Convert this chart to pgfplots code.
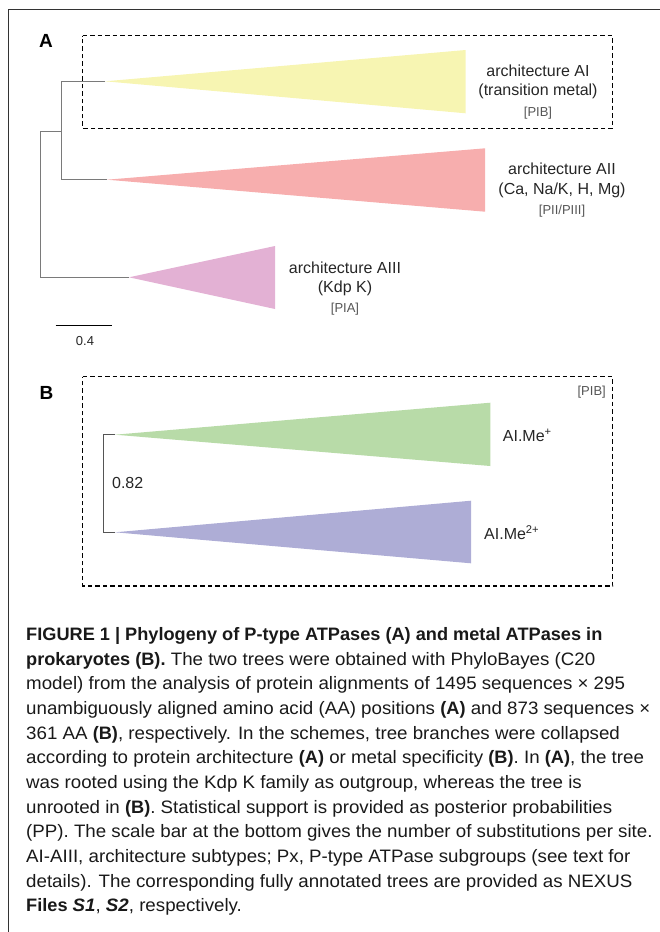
\documentclass[border=0pt]{standalone}
\usepackage{pgfplots}
\pgfplotsset{compat=1.18}
\usepackage{fontspec}
\setmainfont{Liberation Sans}
\newfontfamily\capfont[FakeStretch=1.04, BoldFeatures={FakeStretch=1.01}]{Liberation Sans}
\definecolor{cAI}{HTML}{F7F5B2}
\definecolor{cAII}{HTML}{F7AEAE}
\definecolor{cAIII}{HTML}{E3B1D4}
\definecolor{cG}{HTML}{B8DBA8}
\definecolor{cP}{HTML}{AEADD6}
\definecolor{br}{HTML}{7A7A7A}
\definecolor{tg}{HTML}{555555}
\begin{document}
\begin{tikzpicture}
\begin{axis}[
  width=660pt, height=932pt, scale only axis,
  xmin=0, xmax=660, ymin=0, ymax=932, y dir=reverse,
  axis lines=none, clip=false,
]
% frame
\addplot[color=black!80, line width=1.1pt] coordinates {(660,9.5) (8.5,9.5) (8.5,932)};
% panel A dashed box
\addplot[black, line width=1.4pt, dash pattern=on 4.5pt off 3pt] coordinates {(82.7,35.7) (612.7,35.7) (612.7,128.3) (82.7,128.3)} -- cycle;
% triangles A
\addplot[fill=cAI, draw=none] coordinates {(105,81.3) (465.7,50) (465.7,113.3)} -- cycle;
\addplot[fill=cAII, draw=none] coordinates {(107,179.7) (485,148.3) (485,211.7)} -- cycle;
\addplot[fill=cAIII, draw=none] coordinates {(129,277.3) (275,246) (275,309)} -- cycle;
% branches A
\addplot[br, line width=1pt] coordinates {(105,81.3) (61,81.3) (61,179.7) (107,179.7)};
\addplot[br, line width=1pt] coordinates {(61,131) (40,131) (40,277.3) (129,277.3)};
% scale bar
\addplot[black, line width=0.9pt] coordinates {(55.7,325.3) (112.3,325.3)};
% panel B dashed box
\addplot[black, line width=1.4pt, dash pattern=on 4.5pt off 3pt] coordinates {(82.7,376.7) (612.7,376.7) (612.7,586) (82.7,586)} -- cycle;
\addplot[fill=cG, draw=none] coordinates {(115,434.7) (490.3,402.7) (490.3,466)} -- cycle;
\addplot[fill=cP, draw=none] coordinates {(115,532.3) (471,500.7) (471,563.3)} -- cycle;
\addplot[br!70!black, line width=1pt] coordinates {(115,434.7) (103.3,434.7) (103.3,532.3) (115,532.3)};
% labels
\node[font=\bfseries\fontsize{19}{19}\selectfont] at (axis cs:46,40.5) {A};
\node[font=\bfseries\fontsize{19}{19}\selectfont] at (axis cs:46.5,393) {B};
\begin{scope}[every node/.style={font=\fontsize{16}{16}\selectfont, text=black!85, inner sep=0pt}]
\node at (axis cs:538,71) {architecture AI};
\node at (axis cs:538,91.7) {(transition metal)};
\node at (axis cs:562,169) {architecture AII};
\node at (axis cs:562,190) {(Ca, Na/K, H, Mg)};
\node at (axis cs:345,267.3) {architecture AIII};
\node at (axis cs:345,288) {(Kdp K)};
\node at (axis cs:85,340.7) {\fontsize{13}{13}\selectfont 0.4};
\node at (axis cs:127.7,483.3) {0.82};
\node[anchor=west] at (axis cs:502.7,435) {AI.Me\textsuperscript{+}};
\node[anchor=west] at (axis cs:484,532.3) {AI.Me\textsuperscript{2+}};
\end{scope}
\begin{scope}[every node/.style={font=\fontsize{13}{13}\selectfont, text=tg, inner sep=0pt}]
\node at (axis cs:538,113) {[PIB]};
\node at (axis cs:562,210.7) {[PII/PIII]};
\node at (axis cs:345,309) {[PIA]};
\node at (axis cs:591.7,391.7) {[PIB]};
\end{scope}
% caption
\begin{scope}[every node/.style={font=\capfont\fontsize{18}{18}\selectfont, text=black!90, inner sep=0pt, anchor=base west}]
\node at (axis cs:26,640.5) {\textbf{FIGURE 1 | Phylogeny of P-type ATPases (A) and metal ATPases in}};
\node at (axis cs:26,665.2) {\textbf{prokaryotes (B).} The two trees were obtained with PhyloBayes (C20};
\node at (axis cs:26,689.8) {model) from the analysis of protein alignments of 1495 sequences × 295};
\node at (axis cs:26,714.5) {unambiguously aligned amino acid (AA) positions \textbf{(A)} and 873 sequences ×};
\node at (axis cs:26,739.1) {361 AA \textbf{(B)}, respectively. In the schemes, tree branches were collapsed};
\node at (axis cs:26,763.8) {according to protein architecture \textbf{(A)} or metal specificity \textbf{(B)}. In \textbf{(A)}, the tree};
\node at (axis cs:26,788.4) {was rooted using the Kdp K family as outgroup, whereas the tree is};
\node at (axis cs:26,813.1) {unrooted in \textbf{(B)}. Statistical support is provided as posterior probabilities};
\node at (axis cs:26,837.7) {(PP). The scale bar at the bottom gives the number of substitutions per site.};
\node at (axis cs:26,862.4) {AI-AIII, architecture subtypes; Px, P-type ATPase subgroups (see text for};
\node at (axis cs:26,887.0) {details). The corresponding fully annotated trees are provided as NEXUS};
\node at (axis cs:26,911.7) {\textbf{Files \textit{S1}}, \textbf{\textit{S2}}, respectively.};
\end{scope}
\end{axis}
\pgfresetboundingbox
\path (0,0) rectangle (660pt,932pt);
\end{tikzpicture}
\end{document}
